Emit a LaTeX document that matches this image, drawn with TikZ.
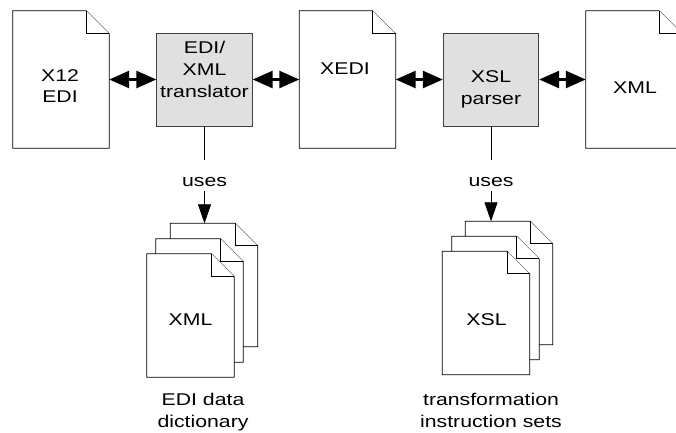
\documentclass[tikz,border=0pt]{standalone}
\usepackage{xcolor}
\usepackage{fontspec}
\setmainfont[FakeStretch=1.25]{Liberation Sans}
\usepackage{tikz}
\usetikzlibrary{positioning,arrows.meta}

% sheet outline with folded corner
\newcommand\docpage[2]{%
  \draw[doc] (#1.south west) -- (#1.north west) -- ([xshift=-#2]#1.north east)
    -- ([yshift=-#2]#1.north east) -- (#1.south east) -- cycle;
  \draw[doc] ([xshift=-#2]#1.north east) |- ([yshift=-#2]#1.north east);
}

\begin{document}
\begin{tikzpicture}[x=1pt, y=-1pt,
    doc/.style={draw=black, fill=white, line width=0.8pt},
    page/.style={minimum width=96pt, minimum height=137pt, inner sep=0pt},
    sheet/.style={minimum width=87pt, minimum height=123pt, inner sep=0pt},
    filter/.style={draw=black!75, fill=black!12, line width=0.8pt,
        minimum width=95.5pt, minimum height=93pt, inner sep=0pt},
    txt/.style={font=\fontsize{17}{21.7}\selectfont, align=center, inner sep=0pt},
    tag/.style={txt, text height=26pt, text depth=4pt},
    link/.style={line width=2.5pt, {Triangle[length=20pt,width=17pt]}-{Triangle[length=20pt,width=17pt]}},
    feed/.style={line width=0.8pt, -{Triangle[length=19pt,width=13pt]}}]
        \clip (0,0) rectangle (676,432);

        % top row
        \node[page] (x12) at (61,79.5) {};
        \node[page] (xedi) at (347.5,79.5) {};
        \node[page] (xml) at (634,79.5) {};
        \docpage{x12}{23pt}
        \docpage{xedi}{23pt}
        \docpage{xml}{23pt}
        \node[filter] (trans) at (204.5,79.5) {};
        \node[filter] (xsl) at (491,79.5) {};

        \node[txt] (x12txt) at (60,86.2) {X12\\EDI};
        \node[txt] (transtxt) at (204.5,69.5) {EDI/\\XML\\translator};
        \node[txt] (xeditxt) at (345,69) {XEDI};
        \node[txt] (xsltxt) at (491,89.5) {XSL\\parser};
        \node[txt] (xmltxt) at (635,87.5) {XML};

        \draw[link] (x12.east) -- (trans.west);
        \draw[link] (trans.east) -- (xedi.west);
        \draw[link] (xedi.east) -- (xsl.west);
        \draw[link] (xsl.east) -- (xml.west);

        % stacks below
        \node[sheet] (dict3) at (214,285) {};
        \node[sheet] (dict2) at (199.5,300.5) {};
        \node[sheet] (dict1) at (190.5,315.5) {};
        \node[sheet] (set3) at (509,283) {};
        \node[sheet] (set2) at (495.5,298) {};
        \node[sheet] (set1) at (486,313) {};
        \foreach \p in {dict3,dict2,dict1,set3,set2,set1} {
            \docpage{\p}{22.5pt}
        }

        \node[txt] (dicttxt) at (190.5,320) {XML};
        \node[txt] (settxt) at (486.5,320) {XSL};

        \node[tag] (uses1) [below=34pt of trans] {uses};
        \node[tag] (uses2) [below=34pt of xsl] {uses};
        \draw[line width=0.8pt] (trans) -- (uses1);
        \draw[line width=0.8pt] (xsl) -- (uses2);
        \draw[feed] (uses1) -- (uses1 |- dict3.north);
        \draw[feed] (uses2) -- (uses2 |- set3.north);

        \node[txt, anchor=north] (dictlbl) at (203,393) {EDI data\\dictionary};
        \node[txt, anchor=north] (setlbl) at (491,393) {transformation\\instruction sets};
    \end{tikzpicture}
\end{document}
